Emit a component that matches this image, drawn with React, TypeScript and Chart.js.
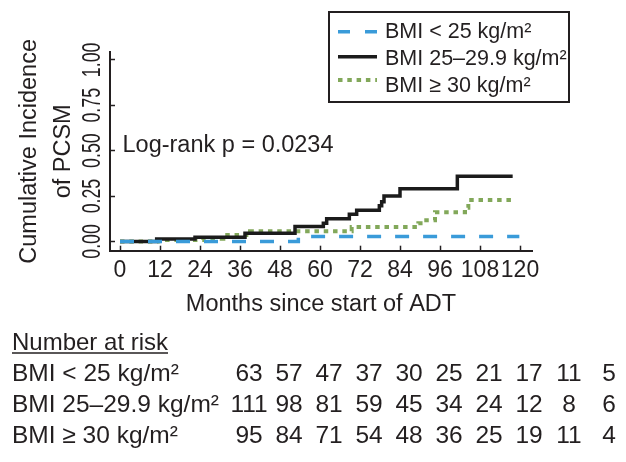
import React, { useEffect, useRef } from 'react';
import { Chart, registerables } from 'chart.js';

Chart.register(...registerables);

const FONT = "'Liberation Sans', Arial, sans-serif";
const TEXT = '#231f20';
const BLUE = '#3a9bd9';
const BLACK = '#1b1b1b';
const GREEN = '#82a85a';

const seriesLabels = ['BMI < 25 kg/m²', 'BMI 25–29.9 kg/m²', 'BMI ≥ 30 kg/m²'];

const lowTimes = [0, 53.5, 119.8];
const lowValues = [0, 0.027, 0.027];

const midTimes = [0, 11, 22.5, 37.5, 52.5, 61, 62, 68.8, 71, 77.8, 78.5, 79.2, 84, 101.2, 117.8];
const midValues = [0, 0.013, 0.023, 0.045, 0.082, 0.1, 0.125, 0.15, 0.172, 0.197, 0.219, 0.25, 0.29, 0.359, 0.359];

const highTimes = [0, 11.5, 25, 31, 39, 69.5, 89.5, 91, 94.5, 103.5, 104.5, 118];
const highValues = [0, 0.008, 0.014, 0.035, 0.056, 0.08, 0.1, 0.117, 0.161, 0.185, 0.228, 0.228];

const xTicks = [0, 12, 24, 36, 48, 60, 72, 84, 96, 108, 120];
const yTicks = [0, 0.25, 0.5, 0.75, 1];
const yTickLabels = ['0.00', '0.25', '0.50', '0.75', '1.00'];

const xTitle = 'Months since start of ADT';
const yTitle = ['Cumulative Incidence', 'of PCSM'];
const pValueText = 'Log-rank p = 0.0234';

const riskTitle = 'Number at risk';
const riskMonths = [0, 12, 24, 36, 48, 60, 72, 84, 96, 108];
const riskLow = [63, 57, 47, 37, 30, 25, 21, 17, 11, 5];
const riskMid = [111, 98, 81, 59, 45, 34, 24, 12, 8, 6];
const riskHigh = [95, 84, 71, 54, 48, 36, 25, 19, 11, 4];

const colors = [BLUE, BLACK, GREEN];
const dashes = [[14, 14], [], [4.5, 4.8]];
const widths = [3.5, 3.5, 4];

const toPoints = (t: number[], v: number[]) => t.map((x, i) => ({ x, y: v[i] }));

const annotations = {
  id: 'annotations',
  afterDraw(chart: any) {
    const { ctx, scales } = chart;
    const xs = scales.x;
    const ys = scales.y;
    ctx.save();
    ctx.fillStyle = TEXT;

    // rotated y tick labels
    ctx.font = `25px ${FONT}`;
    ctx.textAlign = 'center';
    ctx.textBaseline = 'alphabetic';
    yTicks.forEach((v, i) => {
      const py = ys.getPixelForValue(v);
      ctx.save();
      ctx.translate(100, py);
      ctx.rotate(-Math.PI / 2);
      ctx.scale(0.71, 1);
      ctx.fillText(yTickLabels[i], 0, 0);
      ctx.restore();
    });

    // log-rank annotation
    ctx.textAlign = 'left';
    ctx.font = `23.5px ${FONT}`;
    ctx.fillText(pValueText, 122.5, 152);

    // legend
    ctx.lineWidth = 2;
    ctx.strokeStyle = TEXT;
    ctx.strokeRect(329, 12, 240, 90);
    const sampleY = [31.7, 56.7, 80];
    const textY = [38.3, 65, 91.7];
    ctx.font = `21.5px ${FONT}`;
    seriesLabels.forEach((lab, i) => {
      ctx.save();
      ctx.strokeStyle = colors[i];
      ctx.lineWidth = widths[i];
      ctx.setLineDash(i === 0 ? [12, 15] : dashes[i]);
      ctx.beginPath();
      ctx.moveTo(338, sampleY[i]);
      ctx.lineTo(377, sampleY[i]);
      ctx.stroke();
      ctx.restore();
      ctx.fillText(lab, 385, textY[i]);
    });

    // risk table
    ctx.font = `24px ${FONT}`;
    ctx.fillText(riskTitle, 12, 350);
    const w = ctx.measureText(riskTitle).width;
    ctx.lineWidth = 1.5;
    ctx.beginPath();
    ctx.moveTo(12, 353);
    ctx.lineTo(12 + w, 353);
    ctx.stroke();

    const rows = [riskLow, riskMid, riskHigh];
    const rowY = [381, 412, 443];
    ctx.font = `24.5px ${FONT}`;
    rows.forEach((vals, r) => {
      ctx.textAlign = 'left';
      ctx.fillText(seriesLabels[r], 12, rowY[r]);
      ctx.textAlign = 'center';
      vals.forEach((n, c) => {
        const px = xs.getPixelForValue(riskMonths[c]) + 129;
        ctx.fillText(String(n), px, rowY[r]);
      });
    });
    ctx.restore();
  },
};

export default function App() {
  const ref = useRef<HTMLCanvasElement | null>(null);
  useEffect(() => {
    document.body.style.margin = '0';
    const canvas = ref.current;
    if (!canvas) return;
    const tickGrid = {
      display: true,
      drawOnChartArea: false,
      drawTicks: true,
      tickLength: -5,
      tickColor: TEXT,
      tickWidth: 1.5,
    };
    const chart = new Chart(canvas, {
      type: 'line',
      data: {
        datasets: [
          { t: lowTimes, v: lowValues },
          { t: midTimes, v: midValues },
          { t: highTimes, v: highValues },
        ].map((s, i) => ({
          label: seriesLabels[i],
          data: toPoints(s.t, s.v),
          borderColor: colors[i],
          borderWidth: widths[i],
          borderDash: dashes[i],
          stepped: true,
          pointRadius: 0,
          fill: false,
        })),
      },
      options: {
        responsive: false,
        animation: false,
        layout: { padding: { left: 0, right: 94, top: 52, bottom: 148.5 } },
        plugins: { legend: { display: false }, tooltip: { enabled: false } },
        scales: {
          x: {
            type: 'linear',
            min: -3,
            max: 123.6,
            afterBuildTicks: (s: any) => {
              s.ticks = xTicks.map((value) => ({ value }));
            },
            ticks: {
              font: { family: FONT, size: 23, lineHeight: 0.8 },
              color: TEXT,
              padding: 15.3,
              maxRotation: 0,
              minRotation: 0,
              autoSkip: false,
              callback: (v: any) => String(v),
            },
            grid: tickGrid,
            border: { display: true, color: TEXT, width: 2 },
            title: {
              display: true,
              text: xTitle,
              color: TEXT,
              font: { family: FONT, size: 23.5, lineHeight: 0.8 },
              padding: { top: 0, bottom: 0 },
            },
          },
          y: {
            type: 'linear',
            min: -0.0512,
            max: 1.0435,
            afterBuildTicks: (s: any) => {
              s.ticks = yTicks.map((value) => ({ value }));
            },
            ticks: { display: false },
            grid: tickGrid,
            border: { display: true, color: TEXT, width: 2 },
            title: {
              display: true,
              text: yTitle,
              color: TEXT,
              font: { family: FONT, size: 23.5, lineHeight: 1.464 },
              padding: { top: 12, bottom: 34.2 },
            },
          },
        },
      } as any,
      plugins: [annotations],
    });
    return () => chart.destroy();
  }, []);
  return <canvas ref={ref} width={626} height={462} style={{ display: 'block' }} />;
}
